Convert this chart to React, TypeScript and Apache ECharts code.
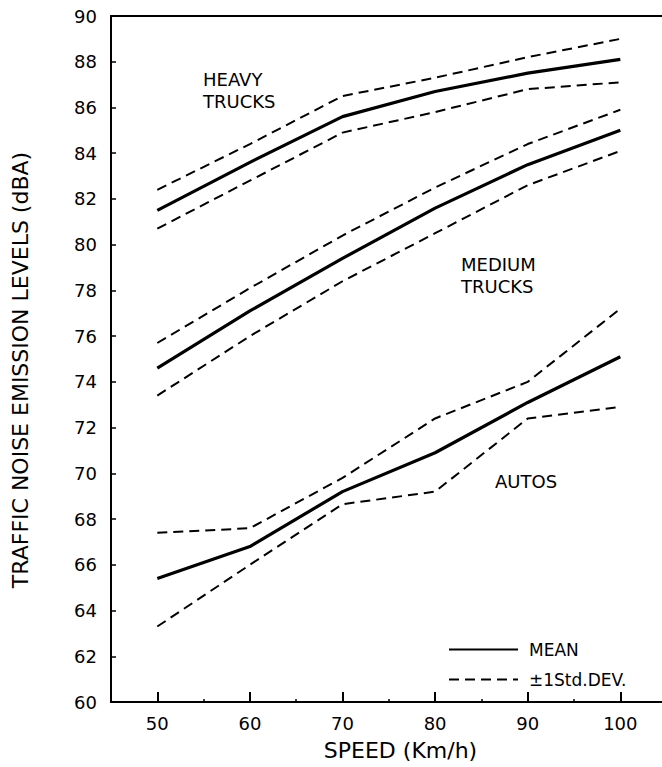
import React, { useEffect, useRef } from "react";
import * as echarts from "echarts";

const speeds = [50, 60, 70, 80, 90, 100];
const xTickValues = [50, 60, 70, 80, 90, 100];
const xMinorTickValues = [55, 65, 75, 85, 95];

const heavyMean = [81.5, 83.6, 85.6, 86.7, 87.5, 88.1];
const heavyUpper = [82.4, 84.4, 86.5, 87.3, 88.2, 89.0];
const heavyLower = [80.7, 82.8, 84.9, 85.8, 86.8, 87.1];

const mediumMean = [74.6, 77.1, 79.4, 81.6, 83.5, 85.0];
const mediumUpper = [75.7, 78.1, 80.4, 82.5, 84.4, 85.9];
const mediumLower = [73.4, 76.0, 78.4, 80.5, 82.6, 84.1];

const autosMean = [65.4, 66.8, 69.2, 70.9, 73.1, 75.1];
const autosUpper = [67.4, 67.6, 69.8, 72.4, 74.0, 77.2];
const autosLower = [63.3, 66.0, 68.65, 69.2, 72.4, 72.9];

const MEAN = "MEAN";
const SD = "±1Std.DEV.";
const FONT = "DejaVu Sans";

const pair = (vals: number[]) => speeds.map((s, i) => [s, vals[i]]);

const meanSeries = (vals: number[]) => ({
  name: MEAN,
  type: "line",
  data: pair(vals),
  symbol: "none",
  lineStyle: { color: "#000", width: 3.2, type: "solid" },
  itemStyle: { color: "#000" },
});
const sdSeries = (vals: number[]) => ({
  name: SD,
  type: "line",
  data: pair(vals),
  symbol: "none",
  lineStyle: { color: "#000", width: 2, type: [10, 6] },
  itemStyle: { color: "#000" },
});

export default function App() {
  const ref = useRef<HTMLDivElement>(null);
  useEffect(() => {
    if (!ref.current) return;
    const chart = echarts.init(ref.current, null, { renderer: "svg" });
    const textStyle = { color: "#000", fontFamily: FONT, fontSize: 18 };
    chart.setOption({
      animation: false,
      backgroundColor: "#fff",
      textStyle: { fontFamily: FONT, color: "#000" },
      grid: { left: 111, right: 0, top: 16, bottom: 65 },
      legend: {
        data: [MEAN, SD],
        orient: "vertical",
        left: 443,
        top: 636,
        itemWidth: 69,
        itemHeight: 14,
        itemGap: 13,
        itemStyle: { opacity: 0 },
        textStyle: { color: "#000", fontFamily: FONT, fontSize: 17, padding: [0, 0, 0, 6] },
        selectedMode: false,
      },
      xAxis: [
        {
          type: "value",
          min: 45,
          max: 104.5,
          position: "bottom",
          name: "SPEED (Km/h)",
          nameLocation: "middle",
          nameGap: 37,
          nameTextStyle: { color: "#000", fontFamily: FONT, fontSize: 22, padding: [0, 0, 0, 28] },
          axisLine: { show: true, lineStyle: { color: "#000", width: 2 } },
          axisTick: { show: true, inside: true, length: 10, customValues: xTickValues, lineStyle: { color: "#000", width: 2 } },
          axisLabel: { ...textStyle, margin: 12, customValues: xTickValues },
          splitLine: { show: false },
        },
        {
          type: "value",
          min: 45,
          max: 104.5,
          position: "bottom",
          axisLine: { show: false },
          axisTick: { show: true, inside: true, length: 3, customValues: xMinorTickValues, lineStyle: { color: "#000", width: 1.5 } },
          axisLabel: { show: false },
          splitLine: { show: false },
        },
        {
          type: "value",
          min: 45,
          max: 104.5,
          position: "top",
          axisLine: { show: true, lineStyle: { color: "#000", width: 2 } },
          axisTick: { show: false },
          axisLabel: { show: false },
          splitLine: { show: false },
        },
      ],
      yAxis: {
        type: "value",
        min: 60,
        max: 90,
        interval: 2,
        name: "TRAFFIC NOISE EMISSION LEVELS (dBA)",
        nameLocation: "middle",
        nameGap: 80,
        nameTextStyle: { color: "#000", fontFamily: FONT, fontSize: 22, padding: [0, 22, 0, 0] },
        axisLine: { show: true, lineStyle: { color: "#000", width: 2 } },
        axisTick: { show: true, inside: true, length: 5, lineStyle: { color: "#000", width: 1.5 } },
        axisLabel: { ...textStyle, margin: 14 },
        splitLine: { show: false },
      },
      graphic: [
        { type: "text", left: 203, top: 68, style: { text: "HEAVY\nTRUCKS", fill: "#000", font: `18px "${FONT}"`, lineHeight: 22, align: "left" } },
        { type: "text", left: 461, top: 253, style: { text: "MEDIUM\nTRUCKS", fill: "#000", font: `18px "${FONT}"`, lineHeight: 22, align: "left" } },
        { type: "text", left: 495, top: 472, style: { text: "AUTOS", fill: "#000", font: `18px "${FONT}"`, align: "left" } },
      ],
      series: [
        meanSeries(heavyMean),
        sdSeries(heavyUpper),
        sdSeries(heavyLower),
        meanSeries(mediumMean),
        sdSeries(mediumUpper),
        sdSeries(mediumLower),
        meanSeries(autosMean),
        sdSeries(autosUpper),
        sdSeries(autosLower),
      ],
    });
    return () => chart.dispose();
  }, []);
  return <div ref={ref} style={{ position: "absolute", left: 0, top: 0, width: 662, height: 767 }} />;
}
